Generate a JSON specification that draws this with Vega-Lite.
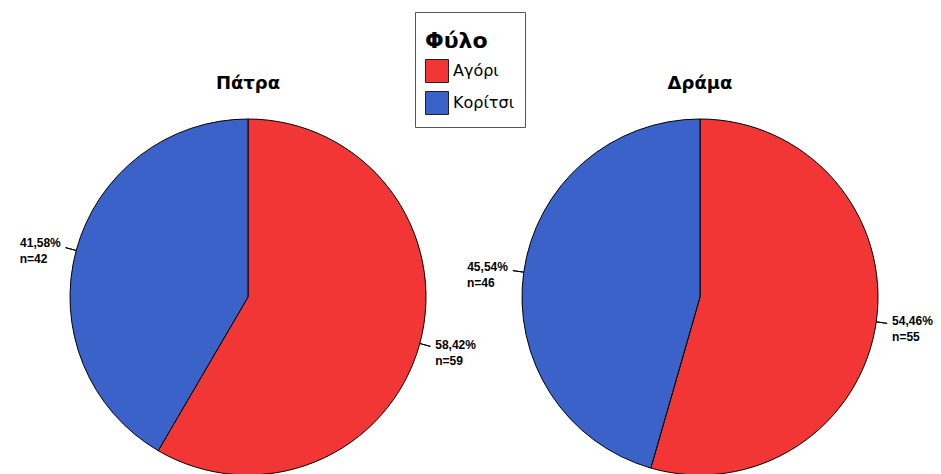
{
  "$schema": "https://vega.github.io/schema/vega-lite/v6.json",
  "autosize": {"type": "pad"},
  "padding": {"left": 0, "top": 11, "right": 0, "bottom": 0},
  "background": "#ffffff",
  "bounds": "flush",
  "config": {"view": {"stroke": null}, "font": "Liberation Sans"},
  "data": {"values": [
    {"city": "Πάτρα", "sex": "Αγόρι", "n": 59, "pct": "58,42%", "nlab": "n=59"},
    {"city": "Πάτρα", "sex": "Κορίτσι", "n": 42, "pct": "41,58%", "nlab": "n=42"},
    {"city": "Δράμα", "sex": "Αγόρι", "n": 55, "pct": "54,46%", "nlab": "n=55"},
    {"city": "Δράμα", "sex": "Κορίτσι", "n": 46, "pct": "45,54%", "nlab": "n=46"}
  ]},
  "spacing": 0,
  "resolve": {"scale": {"color": "shared"}, "legend": {"color": "shared"}},
  "hconcat": [
    {
      "width": 496, "height": 356,
      "title": {"text": "Πάτρα", "font": "DejaVu Sans", "fontSize": 18, "fontWeight": "bold", "color": "#000", "offset": 24},
      "transform": [
        {"filter": "datum.city === 'Πάτρα'"},
        {"stack": "n", "groupby": [], "sort": [{"field": "sex", "order": "ascending"}], "as": ["s0", "s1"]},
        {"calculate": "(datum.s0 + datum.s1) / 2", "as": "mid"}
      ],
      "layer": [
        {"mark": {"type": "arc", "outerRadius": 178, "stroke": "#000", "strokeWidth": 1},
         "encoding": {
           "theta": {"field": "s0", "type": "quantitative", "scale": {"domain": [0, 101], "zero": true}},
           "theta2": {"field": "s1"},
           "color": {"field": "sex", "type": "nominal", "title": ["", "Φύλο"],
             "scale": {"domain": ["Αγόρι", "Κορίτσι"], "range": ["#f23535", "#3a62c9"]},
             "legend": {"orient": "none", "legendX": 415, "legendY": -107, "symbolType": "square", "symbolSize": 529,
               "symbolStrokeColor": "#222", "symbolStrokeWidth": 1, "symbolOpacity": 1,
               "titleFont": "DejaVu Sans", "titleFontSize": 22, "titleFontWeight": "bold", "titleColor": "#000", "titlePadding": 6,
               "titleLineHeight": 9,
               "labelFont": "DejaVu Sans", "labelFontSize": 16, "labelColor": "#000", "labelOffset": 4,
               "labelExpr": "datum.label + '\u2007\u2007\u2007'",
               "strokeColor": "#555", "fillColor": "#fff", "padding": 10, "rowPadding": 4}}
         }},
        {"mark": {"type": "arc", "innerRadius": 178, "outerRadius": 189, "stroke": "#000", "strokeWidth": 1, "fill": null},
         "encoding": {"theta": {"field": "mid", "type": "quantitative", "scale": {"domain": [0, 101], "zero": true}}, "theta2": {"field": "mid"}}},
        {"mark": {"type": "text", "radius": 194, "align": {"expr": "datum.sex === 'Κορίτσι' ? 'right' : 'left'"}, "baseline": "middle", "fontSize": 12, "fontWeight": "bold", "dy": -3},
         "encoding": {"theta": {"field": "mid", "type": "quantitative", "scale": {"domain": [0, 101], "zero": true}}, "text": {"field": "pct"}, "color": {"value": "#000"}}},
        {"mark": {"type": "text", "radius": 194, "align": "left", "baseline": "middle", "fontSize": 12, "fontWeight": "bold", "dy": 13, "dx": {"expr": "datum.sex === 'Κορίτσι' ? -41 : 0"}},
         "encoding": {"theta": {"field": "mid", "type": "quantitative", "scale": {"domain": [0, 101], "zero": true}}, "text": {"field": "nlab"}, "color": {"value": "#000"}}}
      ]
    },
    {
      "width": 408, "height": 356,
      "title": {"text": "Δράμα", "font": "DejaVu Sans", "fontSize": 18, "fontWeight": "bold", "color": "#000", "offset": 24},
      "transform": [
        {"filter": "datum.city === 'Δράμα'"},
        {"stack": "n", "groupby": [], "sort": [{"field": "sex", "order": "ascending"}], "as": ["s0", "s1"]},
        {"calculate": "(datum.s0 + datum.s1) / 2", "as": "mid"}
      ],
      "layer": [
        {"mark": {"type": "arc", "outerRadius": 178, "stroke": "#000", "strokeWidth": 1},
         "encoding": {
           "theta": {"field": "s0", "type": "quantitative", "scale": {"domain": [0, 101], "zero": true}},
           "theta2": {"field": "s1"},
           "color": {"field": "sex", "type": "nominal", "title": "Φύλο", "legend": null,
             "scale": {"domain": ["Αγόρι", "Κορίτσι"], "range": ["#f23535", "#3a62c9"]}}
         }},
        {"mark": {"type": "arc", "innerRadius": 178, "outerRadius": 189, "stroke": "#000", "strokeWidth": 1, "fill": null},
         "encoding": {"theta": {"field": "mid", "type": "quantitative", "scale": {"domain": [0, 101], "zero": true}}, "theta2": {"field": "mid"}}},
        {"mark": {"type": "text", "radius": 194, "align": {"expr": "datum.sex === 'Κορίτσι' ? 'right' : 'left'"}, "baseline": "middle", "fontSize": 12, "fontWeight": "bold", "dy": -3},
         "encoding": {"theta": {"field": "mid", "type": "quantitative", "scale": {"domain": [0, 101], "zero": true}}, "text": {"field": "pct"}, "color": {"value": "#000"}}},
        {"mark": {"type": "text", "radius": 194, "align": "left", "baseline": "middle", "fontSize": 12, "fontWeight": "bold", "dy": 13, "dx": {"expr": "datum.sex === 'Κορίτσι' ? -41 : 0"}},
         "encoding": {"theta": {"field": "mid", "type": "quantitative", "scale": {"domain": [0, 101], "zero": true}}, "text": {"field": "nlab"}, "color": {"value": "#000"}}}
      ]
    }
  ]
}
